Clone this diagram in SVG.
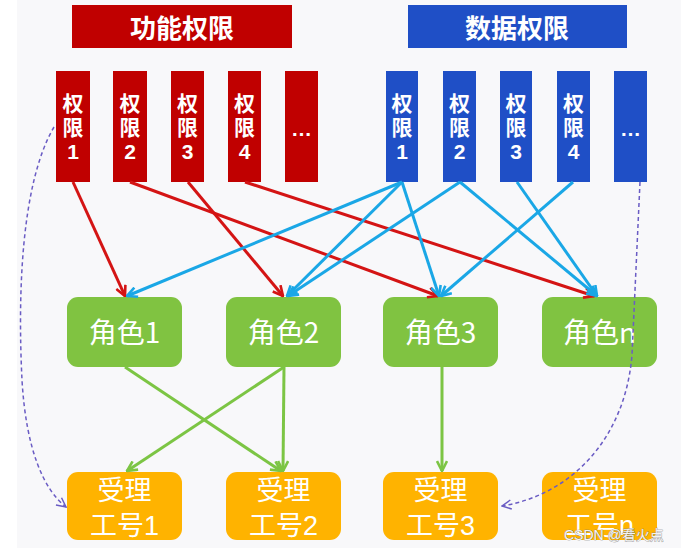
<svg xmlns="http://www.w3.org/2000/svg" width="681" height="553" viewBox="0 0 681 553">
<defs>
<style>
.hdr{font-family:"Noto Sans CJK SC","Liberation Sans",sans-serif;font-weight:bold;font-size:26px;fill:#fff;text-anchor:middle}
.perm{font-family:"Liberation Sans","Noto Sans CJK SC",sans-serif;font-weight:bold;font-size:21px;fill:#fff;text-anchor:middle}
.role{font-family:"Noto Sans CJK SC","Noto Sans",sans-serif;font-size:28px;fill:#fff;text-anchor:middle}
.work{font-family:"Liberation Sans","Noto Sans CJK SC",sans-serif;font-size:27px;fill:#fff;text-anchor:middle}
.red{fill:#C00000}
.blue{fill:#1F4FC6}
.green{fill:#80C341}
.orange{fill:#FFB300}
.ar{stroke:#D41414;stroke-width:3;fill:none}
.ab{stroke:#1AA7E6;stroke-width:3;fill:none}
.ag{stroke:#7CC544;stroke-width:3;fill:none}
.ad{stroke:#6A5CC4;stroke-width:1.5;stroke-dasharray:4 3;fill:none}
.wm{font-family:"Liberation Sans","Noto Sans CJK SC",sans-serif;font-size:14px;fill:#f4f4f4;stroke:#777;stroke-width:0.6;paint-order:stroke}
</style>
<marker id="mr" viewBox="0 0 12 12" refX="11" refY="6" markerWidth="12" markerHeight="12" markerUnits="userSpaceOnUse" orient="auto"><path d="M1,1 L11,6 L1,11" fill="none" stroke="#D41414" stroke-width="2.6"/></marker>
<marker id="mb" viewBox="0 0 12 12" refX="11" refY="6" markerWidth="12" markerHeight="12" markerUnits="userSpaceOnUse" orient="auto"><path d="M1,1 L11,6 L1,11" fill="none" stroke="#1AA7E6" stroke-width="2.6"/></marker>
<marker id="mg" viewBox="0 0 12 12" refX="11" refY="6" markerWidth="12" markerHeight="12" markerUnits="userSpaceOnUse" orient="auto"><path d="M1,1 L11,6 L1,11" fill="none" stroke="#7CC544" stroke-width="2.6"/></marker>
<marker id="md" viewBox="0 0 12 12" refX="11" refY="6" markerWidth="11" markerHeight="11" markerUnits="userSpaceOnUse" orient="auto"><path d="M1,1 L11,6 L1,11" fill="none" stroke="#6A5CC4" stroke-width="1.6"/></marker>
</defs>
<rect x="0" y="0" width="681" height="553" fill="#ffffff"/>
<rect x="17" y="0" width="664" height="548" fill="#F8F8FA"/>

<g id="hdr-func"><rect x="72" y="5" width="220" height="43" class="red"/><text x="182" y="38" class="hdr">功能权限</text></g>
<g id="hdr-data"><rect x="408" y="5" width="219" height="43" class="blue"/><text x="517" y="38" class="hdr">数据权限</text></g>

<g id="fp1"><rect x="56" y="71" width="34" height="111" class="red"/><text x="73" y="111" class="perm">权</text><text x="73" y="135" class="perm">限</text><text x="73" y="159" class="perm">1</text></g>
<g id="fp2"><rect x="113" y="71" width="34" height="111" class="red"/><text x="130" y="111" class="perm">权</text><text x="130" y="135" class="perm">限</text><text x="130" y="159" class="perm">2</text></g>
<g id="fp3"><rect x="171" y="71" width="33" height="111" class="red"/><text x="187.5" y="111" class="perm">权</text><text x="187.5" y="135" class="perm">限</text><text x="187.5" y="159" class="perm">3</text></g>
<g id="fp4"><rect x="228" y="71" width="33" height="111" class="red"/><text x="244.5" y="111" class="perm">权</text><text x="244.5" y="135" class="perm">限</text><text x="244.5" y="159" class="perm">4</text></g>
<g id="fp5"><rect x="285" y="71" width="33" height="111" class="red"/><text x="301.5" y="136" class="perm">…</text></g>

<g id="dp1"><rect x="386" y="71" width="32" height="111" class="blue"/><text x="402" y="111" class="perm">权</text><text x="402" y="135" class="perm">限</text><text x="402" y="159" class="perm">1</text></g>
<g id="dp2"><rect x="443" y="71" width="33" height="111" class="blue"/><text x="459.5" y="111" class="perm">权</text><text x="459.5" y="135" class="perm">限</text><text x="459.5" y="159" class="perm">2</text></g>
<g id="dp3"><rect x="500" y="71" width="32" height="111" class="blue"/><text x="516" y="111" class="perm">权</text><text x="516" y="135" class="perm">限</text><text x="516" y="159" class="perm">3</text></g>
<g id="dp4"><rect x="557" y="71" width="33" height="111" class="blue"/><text x="573.5" y="111" class="perm">权</text><text x="573.5" y="135" class="perm">限</text><text x="573.5" y="159" class="perm">4</text></g>
<g id="dp5"><rect x="614" y="71" width="33" height="111" class="blue"/><text x="630.5" y="136" class="perm">…</text></g>

<g id="role1"><rect x="67" y="297" width="115" height="70" rx="11" class="green"/><text x="124.5" y="343" class="role">角色1</text></g>
<g id="role2"><rect x="226" y="297" width="115" height="70" rx="11" class="green"/><text x="283.5" y="343" class="role">角色2</text></g>
<g id="role3"><rect x="383" y="297" width="115" height="70" rx="11" class="green"/><text x="440.5" y="343" class="role">角色3</text></g>
<g id="rolen"><rect x="542" y="297" width="115" height="70" rx="11" class="green"/><text x="599.5" y="343" class="role">角色n</text></g>

<g id="work1"><rect x="67" y="472" width="115" height="68" rx="11" class="orange"/><text x="124.5" y="500" class="work">受理</text><text x="124.5" y="535" class="work">工号1</text></g>
<g id="work2"><rect x="226" y="472" width="115" height="68" rx="11" class="orange"/><text x="283.5" y="500" class="work">受理</text><text x="283.5" y="535" class="work">工号2</text></g>
<g id="work3"><rect x="383" y="472" width="115" height="68" rx="11" class="orange"/><text x="440.5" y="500" class="work">受理</text><text x="440.5" y="535" class="work">工号3</text></g>
<g id="workn"><rect x="542" y="472" width="115" height="68" rx="11" class="orange"/><text x="599.5" y="500" class="work">受理</text><text x="599.5" y="535" class="work">工号n</text></g>

<g id="connectors">
<line x1="73" y1="182" x2="125" y2="296" class="ar" marker-end="url(#mr)"/>
<line x1="130" y1="182" x2="438" y2="296" class="ar" marker-end="url(#mr)"/>
<line x1="188" y1="182" x2="283" y2="296" class="ar" marker-end="url(#mr)"/>
<line x1="245" y1="182" x2="594" y2="296" class="ar" marker-end="url(#mr)"/>

<line x1="402" y1="182" x2="127" y2="296" class="ab" marker-end="url(#mb)"/>
<line x1="402" y1="182" x2="287" y2="296" class="ab" marker-end="url(#mb)"/>
<line x1="402" y1="182" x2="439" y2="296" class="ab" marker-end="url(#mb)"/>
<line x1="460" y1="182" x2="288" y2="296" class="ab" marker-end="url(#mb)"/>
<line x1="460" y1="182" x2="597" y2="296" class="ab" marker-end="url(#mb)"/>
<line x1="517" y1="182" x2="597" y2="296" class="ab" marker-end="url(#mb)"/>
<line x1="573" y1="182" x2="441" y2="296" class="ab" marker-end="url(#mb)"/>

<line x1="125" y1="367" x2="281" y2="471" class="ag" marker-end="url(#mg)"/>
<line x1="284" y1="367" x2="127" y2="471" class="ag" marker-end="url(#mg)"/>
<line x1="284" y1="367" x2="283" y2="471" class="ag" marker-end="url(#mg)"/>
<line x1="442" y1="367" x2="442" y2="471" class="ag" marker-end="url(#mg)"/>

<path d="M54,127 C20,185 18,300 22,380 C26,450 44,490 66,507" class="ad" marker-end="url(#md)"/>
<path d="M640,182 L632,355 C625,440 570,495 502,506" class="ad" marker-end="url(#md)"/>
</g>
<text x="564" y="540" class="wm">CSDN @看火点</text>
</svg>
